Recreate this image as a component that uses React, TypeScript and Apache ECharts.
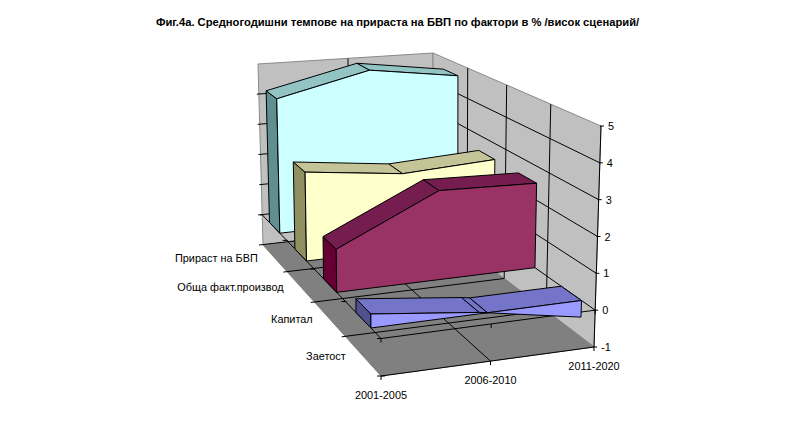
import React, { useEffect, useRef } from "react";
import * as echarts from "echarts";

const titleText = "Фиг.4а. Средногодишни темпове на прираста на БВП по фактори в % /висок сценарий/";
const periods = ["2001-2005", "2006-2010", "2011-2020"];
const factors = ["Прираст на БВП", "Обща факт.производ", "Капитал", "Заетост"];
const zTicks = [-1, 0, 1, 2, 3, 4, 5];

const gdpGrowth = [4.3, 5.0, 4.6];
const totalFactor = [2.7, 2.35, 2.5];
const capital = [1.24, 2.6, 2.5];
const employment = [0.38, 0.04, -0.46];

const faceColors = [
  { front: "#CCFFFF", top: "#93C4C4", side: "#5F8F8F" },
  { front: "#FFFFCC", top: "#C4C498", side: "#8F8F62" },
  { front: "#993366", top: "#741D4E", side: "#660033" },
  { front: "#9999FF", top: "#7474C8", side: "#50508F" },
];

const W = 796;
const H = 423;
const Z_MIN = -1;
const Z_MAX = 5;

type Pt = [number, number];
// Screen positions of the eight corners of the plot box: [back-left, back-right, front-left, front-right]
const floorCorners: Pt[] = [[263, 245], [434, 225], [381, 376], [594, 347]];
const ceilCorners: Pt[] = [[258, 64], [433, 53], [381, 151], [601, 126]];
const K_U = 0.945;
const K_D = 1.28;
const BAND_CENTER_SHIFT = 0.005;
const BAND_HALF = 0.0525;

const persp = (t: number, k: number) => t / (t + k * (1 - t));
const lerp = (a: number, b: number, t: number) => a + (b - a) * t;
const lerpPt = (a: Pt, b: Pt, t: number): Pt => [lerp(a[0], b[0], t), lerp(a[1], b[1], t)];

// u, d and z all run 0..1
function project(u: number, d: number, z: number): Pt {
  const pu = persp(u, K_U);
  const pd = persp(d, K_D);
  const layer = (c: Pt[]) => lerpPt(lerpPt(c[0], c[1], pu), lerpPt(c[2], c[3], pu), pd);
  return lerpPt(layer(floorCorners), layer(ceilCorners), z);
}

const bandD = (i: number, side: -1 | 1) => (i + 0.5) / factors.length + BAND_CENTER_SHIFT + side * BAND_HALF;

// the library's hidden axes give u (period) and z (value), as fractions of the grid
const uOf = (api: any, i: number) => api.coord([i, 0])[0] / W;
const zOf = (api: any, v: number) => 1 - api.coord([0, v])[1] / H;

const poly = (points: Pt[], fill: string, stroke = "#000", lineWidth = 1) => ({
  type: "polygon",
  shape: { points },
  style: { fill, stroke, lineWidth, lineJoin: "round" },
});
const seg = (a: Pt, b: Pt, stroke = "#000", lineWidth = 1) => ({
  type: "line",
  shape: { x1: a[0], y1: a[1], x2: b[0], y2: b[1] },
  style: { stroke, lineWidth, fill: "none" },
});
const label = (x: number, y: number, text: string, align: string) => ({
  type: "text",
  style: {
    x, y, text, align, verticalAlign: "middle",
    font: '10.9px "Liberation Sans", Arial, sans-serif',
    fill: "#000",
  },
});

function renderFrame(_: any, api: any) {
  const us = periods.map((__, i) => uOf(api, i));
  const zs = zTicks.map((t) => zOf(api, t));
  const z0 = zOf(api, 0);
  const depths = factors.map((__, i) => i / factors.length).concat(1);
  const children: any[] = [];
  const WALL = "#C0C0C0";
  const FLOOR = "#808080";
  const EDGE = "#8a8a8a";
  // walls and floor
  children.push(poly([project(0, 0, 0), project(1, 0, 0), project(1, 0, 1), project(0, 0, 1)], WALL, EDGE));
  children.push(poly([project(1, 0, 0), project(1, 1, 0), project(1, 1, 1), project(1, 0, 1)], WALL, EDGE));
  children.push(poly([project(0, 0, 0), project(1, 0, 0), project(1, 1, 0), project(0, 1, 0)], FLOOR, FLOOR));
  // gridlines on the walls
  zs.forEach((z, i) => {
    if (i === 0 || i === zs.length - 1) return;
    const left = project(0, 0, z);
    children.push(seg([left[0] - 2, left[1]], project(1, 0, z)));
    children.push(seg(project(1, 0, z), project(1, 1, z)));
  });
  children.push(seg(project(us[1], 0, 0), project(us[1], 0, 1)));
  depths.slice(1, -1).forEach((d) => {
    children.push(seg(project(1, d, 0), project(1, d, 1)));
  });
  // gridlines on the floor
  depths.slice(0, -1).forEach((d) => {
    const a = project(0, d, 0);
    children.push(seg([a[0] - 4, a[1]], project(1, d, 0)));
  });
  const fl = project(0, 1, 0);
  children.push(seg(project(us[1], 0, 0), project(us[1], 1, 0)));
  children.push(seg([fl[0], fl[1]], project(1, 1, 0), "#000"));
  children.push(seg([fl[0] - 4, fl[1]], [fl[0] + 4, fl[1]]));
  // axis lines at zero, with their ticks
  children.push(seg(project(0, 0, z0), project(0, 1, z0)));
  children.push(seg(project(0, 1, z0), project(1, 1, z0)));
  us.forEach((u) => {
    const p = project(u, 1, z0);
    const q = project(u, 1, 0);
    children.push(seg(p, [p[0], p[1] + 4]));
    children.push(seg(q, [q[0], q[1] + 4]));
  });
  depths.forEach((d) => {
    const p = project(0, d, z0);
    children.push(seg([p[0] - 4, p[1]], [p[0] + 1, p[1]]));
  });
  return { type: "group", children };
}

function renderLabels(_: any, api: any) {
  const children: any[] = [];
  children.push(seg(project(1, 1, 0), project(1, 1, 1)));
  zTicks.forEach((t) => {
    const p = project(1, 1, zOf(api, t));
    children.push(seg([p[0] - 1, p[1]], [p[0] + 3, p[1]]));
    children.push(label(p[0] + 7, p[1], String(t), "left"));
  });
  periods.forEach((name, i) => {
    const q = project(uOf(api, i), 1, 0);
    children.push(label(q[0], q[1] + 19, name, "center"));
  });
  factors.forEach((name, i) => {
    const q = project(0, (i + 0.5) / factors.length, 0);
    children.push(label(q[0] - 17, q[1], name, "right"));
  });
  return { type: "group", children };
}

const makeAreaRenderer = (band: number) => (params: any, api: any) => {
  const n = periods.length;
  if (params.dataIndex !== n - 1) return null;
  const colors = faceColors[band];
  const dBack = bandD(band, -1);
  const dFront = bandD(band, 1);
  const z0 = zOf(api, 0);
  const vals = periods.map((__, i) => api.value(1, i) as number);
  const us = periods.map((__, i) => uOf(api, i));
  const children: any[] = [];

  // upper surface: the higher of the value and the zero base, split where the value crosses zero
  const upper: { u: number; v: number }[] = [];
  vals.forEach((v, i) => {
    upper.push({ u: us[i], v: Math.max(v, 0) });
    if (i < n - 1 && v * vals[i + 1] < 0) {
      const t = v / (v - vals[i + 1]);
      upper.push({ u: lerp(us[i], us[i + 1], t), v: 0 });
    }
  });
  const zv = (v: number) => zOf(api, v);

  // side cap at the first period
  children.push(poly([
    project(us[0], dBack, z0),
    project(us[0], dFront, z0),
    project(us[0], dFront, zv(vals[0])),
    project(us[0], dBack, zv(vals[0])),
  ], colors.side));

  // top faces
  for (let i = 0; i < upper.length - 1; i++) {
    const a = upper[i];
    const b = upper[i + 1];
    children.push(poly([
      project(a.u, dFront, zv(a.v)),
      project(b.u, dFront, zv(b.v)),
      project(b.u, dBack, zv(b.v)),
      project(a.u, dBack, zv(a.v)),
    ], colors.top));
  }

  // front face
  const front: Pt[] = [];
  vals.forEach((v, i) => front.push(project(us[i], dFront, zv(v))));
  for (let i = n - 1; i >= 0; i--) front.push(project(us[i], dFront, z0));
  children.push(poly(front, colors.front));
  return { type: "group", children };
};

const seriesValues = [gdpGrowth, totalFactor, capital, employment];

export default function App() {
  const ref = useRef<HTMLDivElement>(null);
  useEffect(() => {
    document.body.style.margin = "0";
    document.body.style.background = "#fff";
    const chart = echarts.init(ref.current!, null, { renderer: "svg" });
    const base = {
      type: "custom",
      coordinateSystem: "cartesian2d",
      silent: true,
      encode: { x: 0, y: 1 },
    };
    chart.setOption({
      animation: false,
      backgroundColor: "#fff",
      title: {
        text: titleText,
        left: 392.5,
        top: 11,
        textAlign: "center",
        textStyle: { fontFamily: '"Liberation Sans", Arial, sans-serif', fontSize: 11.2, fontWeight: "bold", color: "#000" },
      },
      grid: { left: 0, top: 0, width: W, height: H },
      xAxis: { type: "category", data: periods, boundaryGap: false, show: false },
      yAxis: { type: "value", min: Z_MIN, max: Z_MAX, interval: 1, show: false },
      series: [
        { ...base, name: "frame", data: [[0, 0]], renderItem: renderFrame },
        ...seriesValues.map((vals, band) => ({
          ...base,
          name: factors[band],
          data: vals.map((v, i) => [i, v]),
          renderItem: makeAreaRenderer(band),
        })),
        { ...base, name: "labels", data: [[0, 0]], renderItem: renderLabels },
      ],
    });
    return () => chart.dispose();
  }, []);
  return <div ref={ref} style={{ position: "fixed", left: 0, top: 0, width: W, height: H }} />;
}
